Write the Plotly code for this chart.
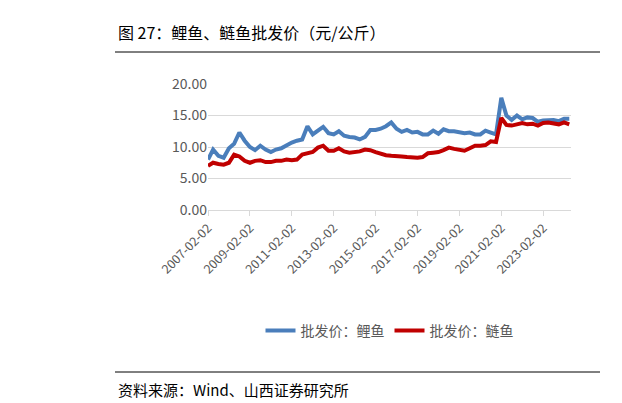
import plotly.graph_objects as go
import pandas as pd

# quarterly wholesale prices, yuan/kg
carp = [8.0, 9.6, 8.6, 8.3, 9.8, 10.5, 12.3, 11.0, 10.0, 9.5, 10.2, 9.6,
        9.2, 9.6, 9.8, 10.3, 10.7, 11.0, 11.2, 13.3, 12.0, 12.6, 13.2, 12.2,
        12.0, 12.5, 11.8, 11.6, 11.5, 11.2, 11.6, 12.7, 12.7, 12.9, 13.3, 13.9,
        12.9, 12.4, 12.7, 12.3, 12.4, 12.0, 12.0, 12.6, 12.1, 12.8, 12.5, 12.5,
        12.4, 12.2, 12.3, 12.0, 12.0, 12.6, 12.3, 12.0, 17.8, 15.0, 14.3, 15.0,
        14.4, 14.7, 14.6, 14.0, 14.2, 14.2, 14.3, 14.1, 14.5, 14.5]
silver_carp = [7.0, 7.5, 7.3, 7.2, 7.5, 8.8, 8.5, 7.8, 7.5, 7.8, 7.9, 7.6,
               7.6, 7.8, 7.8, 8.0, 7.9, 8.0, 8.8, 9.0, 9.2, 9.9, 10.2, 9.4,
               9.4, 9.8, 9.3, 9.1, 9.2, 9.3, 9.6, 9.5, 9.2, 8.9, 8.7, 8.6,
               8.6, 8.5, 8.4, 8.3, 8.3, 8.4, 9.0, 9.1, 9.2, 9.5, 9.9, 9.7,
               9.5, 9.4, 9.8, 10.2, 10.2, 10.3, 10.9, 10.8, 14.6, 13.5, 13.4, 13.6,
               13.8, 13.6, 13.7, 13.4, 13.8, 13.9, 13.8, 13.6, 13.9, 13.6]
dates = pd.date_range("2007-02-02", periods=len(carp), freq=pd.DateOffset(months=3))
tick_text = ["2007-02-02", "2009-02-02", "2011-02-02", "2013-02-02", "2015-02-02",
             "2017-02-02", "2019-02-02", "2021-02-02", "2023-02-02"]

font = "Noto Sans CJK SC"
fig = go.Figure()
fig.add_trace(go.Scatter(x=dates, y=carp, mode="lines", name="批发价：鲤鱼",
                         line=dict(color="#4a7ebb", width=4)))
fig.add_trace(go.Scatter(x=dates, y=silver_carp, mode="lines", name="批发价：鲢鱼",
                         line=dict(color="#c00000", width=4)))

fig.update_xaxes(range=[dates[0], pd.Timestamp("2024-06-01")],
                 tickvals=tick_text, ticktext=tick_text, tickangle=-45,
                 showgrid=False, showline=True, linecolor="#d9d9d9",
                 ticks="outside", ticklen=5, tickcolor="#d9d9d9",
                 tickfont=dict(size=12.5, color="#595959"), automargin=False)
fig.update_yaxes(range=[0, 20], dtick=5, tickformat=".2f",
                 gridcolor="#d9d9d9", zeroline=False, automargin=False,
                 tickfont=dict(size=14, color="#595959"))

fig.update_layout(
    width=622, height=403, plot_bgcolor="white", paper_bgcolor="white",
    margin=dict(l=200, r=59, t=76, b=201),
    font=dict(family=font),
    legend=dict(orientation="h", x=0.5, xanchor="center", y=-0.96, yanchor="middle",
                font=dict(size=14, color="#595959")),
)

# title and source placed in pixel terms relative to the plot area
W, H = 363, 126
def px(x, y):
    return (x - 200) / W, (202 - y) / H

x0, y0 = px(107, 44)
x1, _ = px(592, 44)
fig.add_shape(type="line", xref="paper", yref="paper", x0=x0, x1=x1, y0=y0, y1=y0,
              line=dict(color="#000000", width=1))
sx, sy = px(107, 364)
fig.add_shape(type="line", xref="paper", yref="paper", x0=sx, x1=x1, y0=sy, y1=sy,
              line=dict(color="#000000", width=1))
tx, ty = px(108, 24)
fig.add_annotation(text="图 27：鲤鱼、鲢鱼批发价（元/公斤）", xref="paper", yref="paper",
                   x=tx, y=ty, xanchor="left", yanchor="middle", showarrow=False,
                   font=dict(size=16, color="#000000"))
ax, ay = px(108, 381)
fig.add_annotation(text="资料来源：Wind、山西证券研究所", xref="paper", yref="paper",
                   x=ax, y=ay, xanchor="left", yanchor="middle", showarrow=False,
                   font=dict(size=15, color="#000000"))

fig.write_html("out.html")
